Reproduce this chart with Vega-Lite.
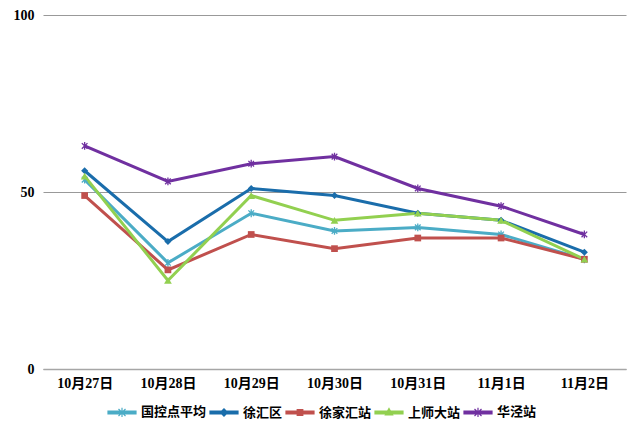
{
  "$schema": "https://vega.github.io/schema/vega-lite/v6.json",
  "autosize": "none",
  "width": 583,
  "height": 354,
  "padding": {"left": 43, "top": 15, "right": 14, "bottom": 69},
  "background": "white",
  "config": {
    "view": {"stroke": null}
  },
  "data": {
    "values": [
      {"date": "10月27日", "series": "国控点平均", "value": 53.5},
      {"date": "10月28日", "series": "国控点平均", "value": 30},
      {"date": "10月29日", "series": "国控点平均", "value": 44},
      {"date": "10月30日", "series": "国控点平均", "value": 39},
      {"date": "10月31日", "series": "国控点平均", "value": 40},
      {"date": "11月1日", "series": "国控点平均", "value": 38},
      {"date": "11月2日", "series": "国控点平均", "value": 31},
      {"date": "10月27日", "series": "徐汇区", "value": 56},
      {"date": "10月28日", "series": "徐汇区", "value": 36},
      {"date": "10月29日", "series": "徐汇区", "value": 51},
      {"date": "10月30日", "series": "徐汇区", "value": 49},
      {"date": "10月31日", "series": "徐汇区", "value": 44},
      {"date": "11月1日", "series": "徐汇区", "value": 42},
      {"date": "11月2日", "series": "徐汇区", "value": 33},
      {"date": "10月27日", "series": "徐家汇站", "value": 49},
      {"date": "10月28日", "series": "徐家汇站", "value": 28},
      {"date": "10月29日", "series": "徐家汇站", "value": 38},
      {"date": "10月30日", "series": "徐家汇站", "value": 34},
      {"date": "10月31日", "series": "徐家汇站", "value": 37},
      {"date": "11月1日", "series": "徐家汇站", "value": 37},
      {"date": "11月2日", "series": "徐家汇站", "value": 31},
      {"date": "10月27日", "series": "上师大站", "value": 54.5},
      {"date": "10月28日", "series": "上师大站", "value": 25},
      {"date": "10月29日", "series": "上师大站", "value": 49},
      {"date": "10月30日", "series": "上师大站", "value": 42},
      {"date": "10月31日", "series": "上师大站", "value": 44},
      {"date": "11月1日", "series": "上师大站", "value": 42},
      {"date": "11月2日", "series": "上师大站", "value": 31},
      {"date": "10月27日", "series": "华泾站", "value": 63},
      {"date": "10月28日", "series": "华泾站", "value": 53},
      {"date": "10月29日", "series": "华泾站", "value": 58},
      {"date": "10月30日", "series": "华泾站", "value": 60},
      {"date": "10月31日", "series": "华泾站", "value": 51},
      {"date": "11月1日", "series": "华泾站", "value": 46},
      {"date": "11月2日", "series": "华泾站", "value": 38}
    ]
  },
  "encoding": {
    "x": {
      "field": "date", "type": "ordinal", "sort": null, "title": null,
      "scale": {"paddingInner": 0, "paddingOuter": 0.5},
      "axis": {
        "labelAngle": 0, "ticks": false, "domainColor": "#a6a6a6", "domainWidth": 1.5,
        "labelFont": "Liberation Serif, Noto Sans CJK SC", "labelFontWeight": "bold",
        "labelFontSize": 14, "labelColor": "#000", "labelPadding": 7
      }
    },
    "y": {
      "field": "value", "type": "quantitative", "title": null,
      "scale": {"domain": [0, 100], "nice": false},
      "axis": {
        "values": [0, 50, 100], "domain": false, "ticks": false,
        "gridColor": "#999999", "gridWidth": 1,
        "labelFont": "Liberation Serif", "labelFontWeight": "bold",
        "labelFontSize": 14, "labelColor": "#000", "labelPadding": 9
      }
    },
    "color": {
      "field": "series", "type": "nominal", "sort": null,
      "scale": {
        "domain": ["国控点平均", "徐汇区", "徐家汇站", "上师大站", "华泾站"],
        "range": ["#4bacc6", "#1a6dab", "#c0504d", "#92d050", "#7030a0"]
      },
      "legend": null
    }
  },
  "layer": [
    {
      "mark": {"type": "line", "strokeWidth": 3},
      "encoding": {
        "color": {
          "field": "series", "type": "nominal", "sort": null,
          "legend": {
            "title": null, "orient": "none", "direction": "horizontal",
            "legendX": 64, "legendY": 382,
            "labelFont": "Noto Sans CJK SC", "labelFontWeight": "bold", "labelFontSize": 13,
            "labelColor": "#000", "symbolSize": 784, "symbolStrokeWidth": 1.2,
            "labelOffset": 4, "columnPadding": 0,
            "encode": {
              "symbols": {
                "update": {
                  "shape": {"signal": "datum.value === '徐汇区' ? 'M-1,-0.1L1,-0.1L1,0.1L-1,0.1ZM-0.26,0L0,-0.26L0.26,0L0,0.26Z' : datum.value === '徐家汇站' ? 'M-1,-0.1L1,-0.1L1,0.1L-1,0.1ZM-0.2,-0.2L0.2,-0.2L0.2,0.2L-0.2,0.2Z' : datum.value === '上师大站' ? 'M-1,-0.1L1,-0.1L1,0.1L-1,0.1ZM0,-0.28L0.26,0.18L-0.26,0.18Z' : 'M-1,-0.1L1,-0.1L1,0.1L-1,0.1ZM-0.25,-0.25L0.25,0.25M-0.25,0.25L0.25,-0.25M0,-0.33L0,0.33'"},
                  "fill": {"scale": "color", "field": "value"},
                  "stroke": {"scale": "color", "field": "value"},
                  "strokeWidth": {"value": 1.2},
                  "opacity": {"value": 1}
                }
              }
            }
          }
        }
      }
    },
    {
      "transform": [{"filter": {"field": "series", "oneOf": ["国控点平均", "华泾站"]}}],
      "mark": {"type": "point", "filled": false, "size": 50, "strokeWidth": 1.3, "opacity": 1,
        "shape": "M-0.8,-0.8L0.8,0.8M-0.8,0.8L0.8,-0.8M0,-1.1L0,1.1"},
      "encoding": {}
    },
    {
      "transform": [{"filter": {"field": "series", "equal": "徐汇区"}}],
      "mark": {"type": "point", "filled": true, "size": 50, "opacity": 1, "shape": "diamond"},
      "encoding": {}
    },
    {
      "transform": [{"filter": {"field": "series", "equal": "徐家汇站"}}],
      "mark": {"type": "point", "filled": true, "size": 45, "opacity": 1, "shape": "square"},
      "encoding": {}
    },
    {
      "transform": [{"filter": {"field": "series", "equal": "上师大站"}}],
      "mark": {"type": "point", "filled": true, "size": 60, "opacity": 1, "shape": "triangle-up"},
      "encoding": {}
    }
  ]
}
